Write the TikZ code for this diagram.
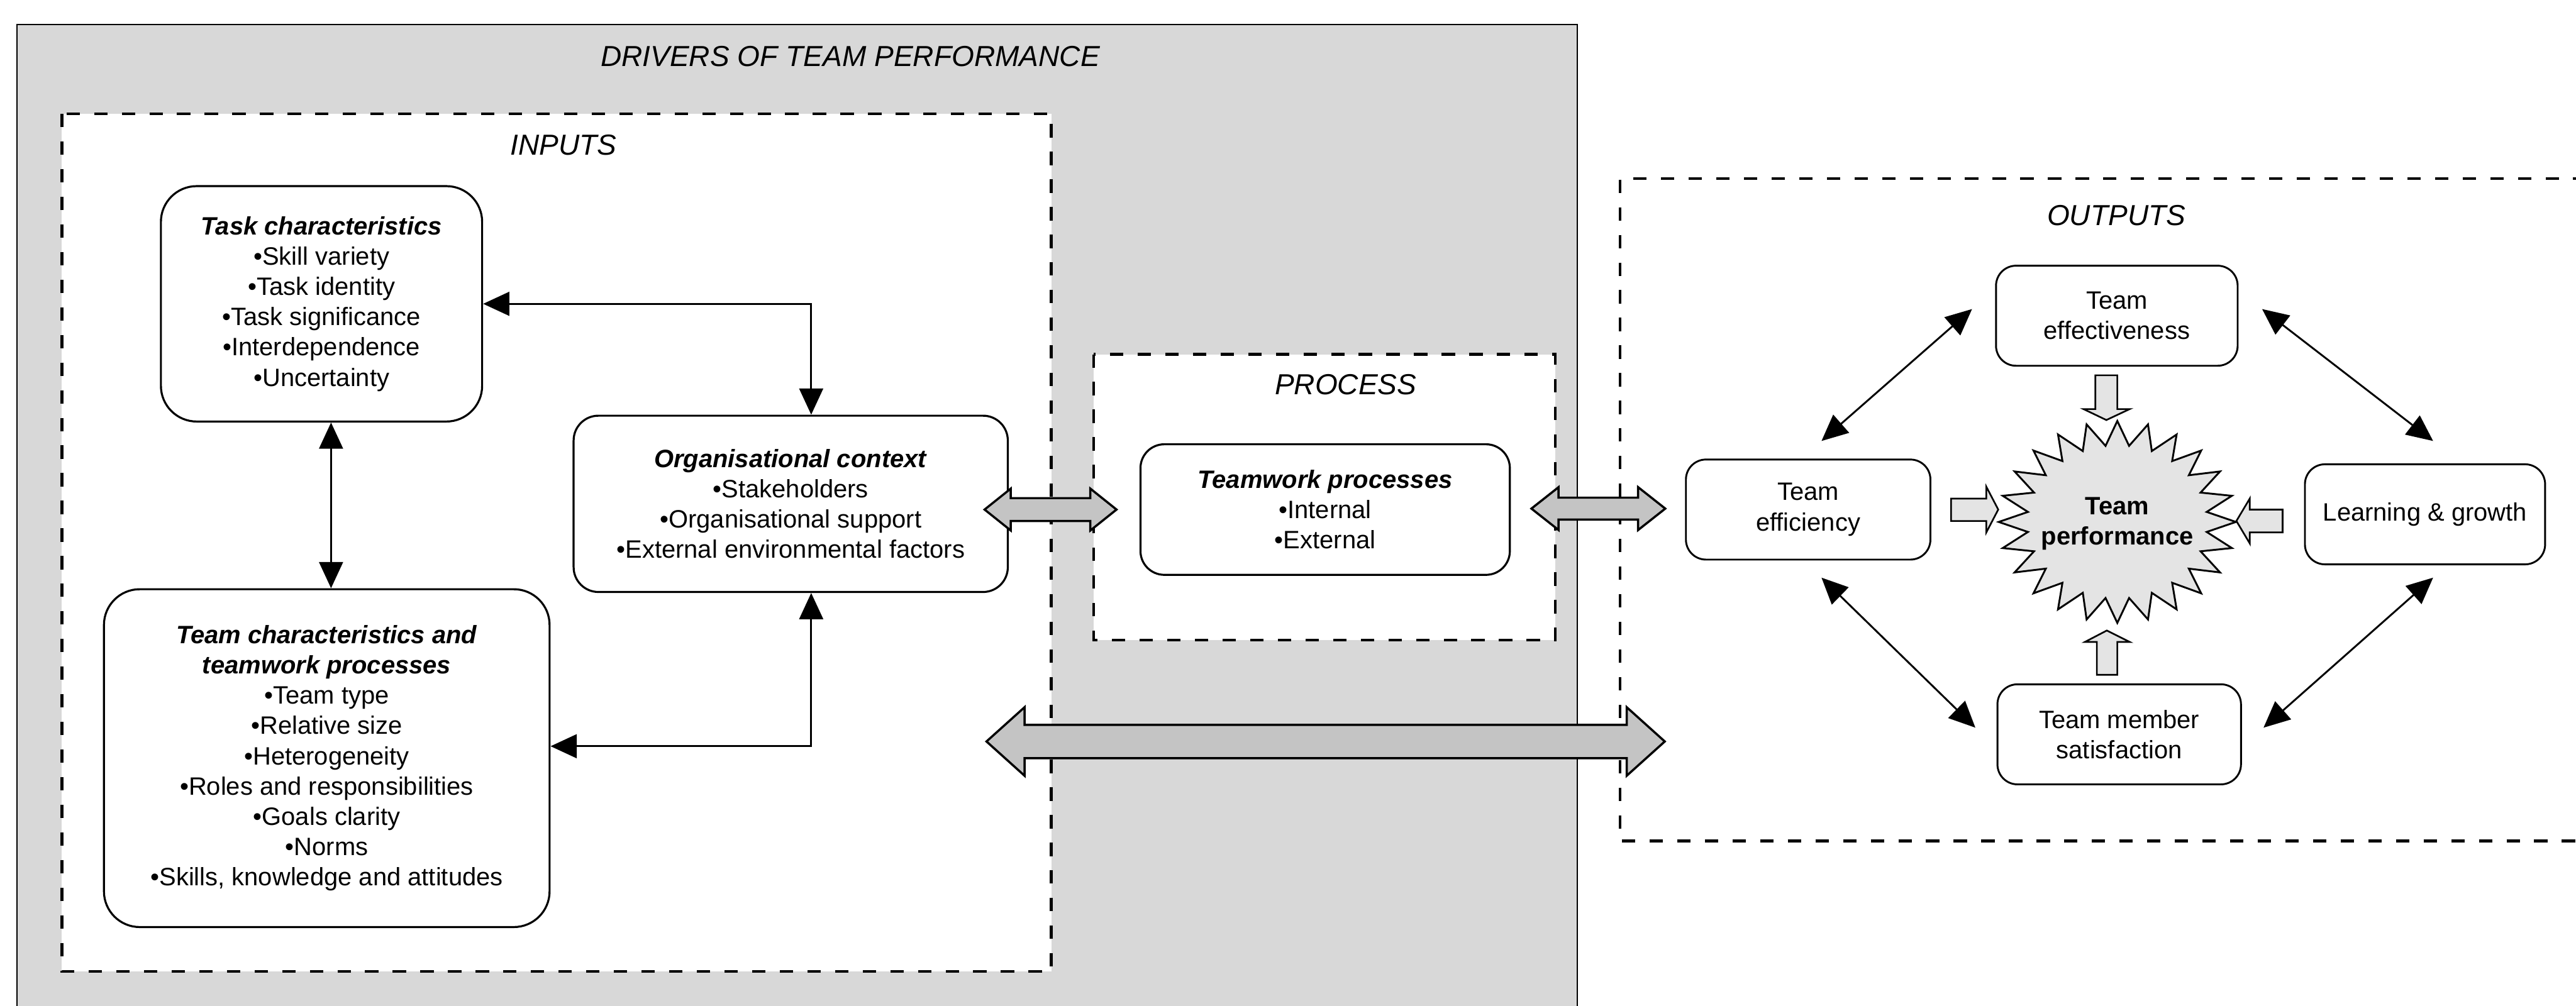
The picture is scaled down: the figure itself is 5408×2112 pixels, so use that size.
\documentclass[tikz,border=0pt]{standalone}
\usepackage{fontspec}
\setmainfont{Liberation Sans}
\usetikzlibrary{arrows.meta}

\definecolor{panelgray}{RGB}{216,216,216}
\definecolor{blockgray}{RGB}{196,196,196}
\definecolor{lightfill}{RGB}{228,228,228}

% horizontal two-headed block arrow: x-left, x-right, y, half shaft, half head, head length, style
\newcommand{\blockpair}[7]{%
  \draw[#7] (#1,#3) -- ({#1+#6},{#3-#5}) -- ({#1+#6},{#3-#4}) -- ({#2-#6},{#3-#4})
    -- ({#2-#6},{#3-#5}) -- (#2,#3) -- ({#2-#6},{#3+#5}) -- ({#2-#6},{#3+#4})
    -- ({#1+#6},{#3+#4}) -- ({#1+#6},{#3+#5}) -- cycle;}

\tikzset{
  body/.style={font=\fontsize{15}{18.1}\selectfont},
  heading/.style={font=\fontsize{17.3}{20}\selectfont\itshape, inner sep=0pt},
  bigbox/.style={draw, line width=1.2pt, fill=white, align=center, body},
  outbox/.style={draw, line width=1.1pt, fill=white, rounded corners=0.42cm,
                 align=center, body, minimum height=2.1cm},
  region/.style={draw, line width=1.6pt, dash pattern=on 0.28cm off 0.3cm, fill=white},
  regionline/.style={line width=1.6pt, dash pattern=on 0.28cm off 0.3cm},
  conn/.style={line width=1.1pt,
               {Triangle[length=0.55cm,width=0.5cm]}-{Triangle[length=0.55cm,width=0.5cm]}},
  blockdbl/.style={draw, line width=1.3pt, fill=blockgray, line join=miter},
  blocksgl/.style={draw, line width=1pt, fill=lightfill, line join=miter},
  burst/.style={draw, line width=1.1pt, fill=lightfill, line join=miter},
}

\begin{document}
\begin{tikzpicture}[x=0.01cm, y=-0.01cm]
\useasboundingbox (0,0) rectangle (5408,2112);
\fill[white] (0,0) rectangle (5408,2112);

% ---- shaded panel holding inputs and process ----
\fill[panelgray] (36,51) rectangle (3311,2112);
\draw[line width=0.8pt] (36,2112) -- (36,51) -- (3311,51) -- (3311,2112);
\node[heading] (drivers) at (1785,119) {DRIVERS OF TEAM PERFORMANCE};

% ---- dashed regions ----
\draw[region] (130,239) rectangle (2207,2040);
\node[heading] (inputs) at (1183,305) {INPUTS};
\draw[region] (2296,744) rectangle (3265,1344);
\node[heading] (process) at (2825,807) {PROCESS};
\draw[regionline] (5430,375) -- (3401,375) -- (3401,1766) -- (5430,1766);
\node[heading] (outputs) at (4443,452) {OUTPUTS};

% ---- input boxes ----
\node[bigbox, rounded corners=0.75cm, minimum width=6.74cm, minimum height=4.94cm]
  (task) at (675,638)
  {\textbf{\textit{Task characteristics}}\\\textbullet Skill variety\\\textbullet Task identity\\
   \textbullet Task significance\\\textbullet Interdependence\\\textbullet Uncertainty};

\node[bigbox, rounded corners=0.52cm, minimum width=9.11cm, minimum height=3.7cm]
  (org) at (1660,1058)
  {\textbf{\textit{Organisational context}}\\\textbullet Stakeholders\\
   \textbullet Organisational support\\\textbullet External environmental factors};

\node[bigbox, rounded corners=0.75cm, minimum width=9.35cm, minimum height=7.09cm]
  (team) at (686,1592)
  {\textbf{\textit{Team characteristics and}}\\\textbf{\textit{teamwork processes}}\\
   \textbullet Team type\\\textbullet Relative size\\\textbullet Heterogeneity\\
   \textbullet Roles and responsibilities\\\textbullet Goals clarity\\\textbullet Norms\\
   \textbullet Skills, knowledge and attitudes};

% ---- process box ----
\node[bigbox, rounded corners=0.5cm, minimum width=7.75cm, minimum height=2.74cm]
  (twp) at (2782,1070)
  {\textbf{\textit{Teamwork processes}}\\\textbullet Internal\\\textbullet External};

% ---- links among the inputs ----
\coordinate (cx) at (1703,0);
\coordinate (vx) at (695,0);
\coordinate (hy) at (0,1567);
\draw[conn] (task.east) -| (org.north -| cx);
\draw[conn] (task.south -| vx) -- (team.north -| vx);
\draw[conn] (org.south -| cx) |- (team.east |- hy);

% ---- output boxes ----
\node[outbox, minimum width=5.07cm] (eff)  at (4444,663)  {Team\\effectiveness};
\node[outbox, minimum width=5.13cm] (effi) at (3796,1070) {Team\\efficiency};
\node[outbox, minimum width=5.04cm] (lg)   at (5091,1080) {Learning \& growth};
\node[outbox, minimum width=5.11cm] (sat)  at (4449,1542) {Team member\\satisfaction};

% ---- central burst ----
\draw[burst] plot[samples at={0,1,...,47}, variable=\k]
  ({4445+249*(1-0.24*mod(\k,2))*cos(7.5*\k)}, {1096+212*(1-0.24*mod(\k,2))*sin(7.5*\k)}) -- cycle;
\node[font=\fontsize{15}{18.1}\selectfont\bfseries, align=center] (perf) at (4445,1100)
  {Team\\performance};

% ---- links among the outputs ----
\coordinate (p1) at (4140,649);  \coordinate (p2) at (3824,926);
\coordinate (p3) at (4749,649);  \coordinate (p4) at (5108,926);
\coordinate (p5) at (3824,1213); \coordinate (p6) at (4147,1528);
\coordinate (p7) at (5108,1213); \coordinate (p8) at (4752,1528);
\draw[conn] (p1) -- (p2);
\draw[conn] (p3) -- (p4);
\draw[conn] (p5) -- (p6);
\draw[conn] (p7) -- (p8);

% ---- block arrows into the burst ----
\draw[blocksgl] (4399,788) -- (4445,788) -- (4445,859) -- (4471,859) -- (4422,882)
  -- (4374,859) -- (4399,859) -- cycle;
\draw[blocksgl] (4402,1417) -- (4445,1417) -- (4445,1348) -- (4471,1348) -- (4423,1324)
  -- (4377,1348) -- (4402,1348) -- cycle;
\draw[blocksgl] (4096,1047) -- (4170,1047) -- (4170,1022) -- (4195,1070) -- (4170,1118)
  -- (4170,1094) -- (4096,1094) -- cycle;
\draw[blocksgl] (4792,1070) -- (4723,1070) -- (4723,1047) -- (4695,1094) -- (4723,1141)
  -- (4723,1118) -- (4792,1118) -- cycle;

% ---- two-headed block arrows between stages ----
\blockpair{2067}{2344}{1070}{24}{44}{55}{blockdbl}
\blockpair{3215}{3496}{1068}{23}{45}{57}{blockdbl}
\blockpair{2071}{3495}{1557}{35}{72}{80}{blockdbl}
\end{tikzpicture}
\end{document}
